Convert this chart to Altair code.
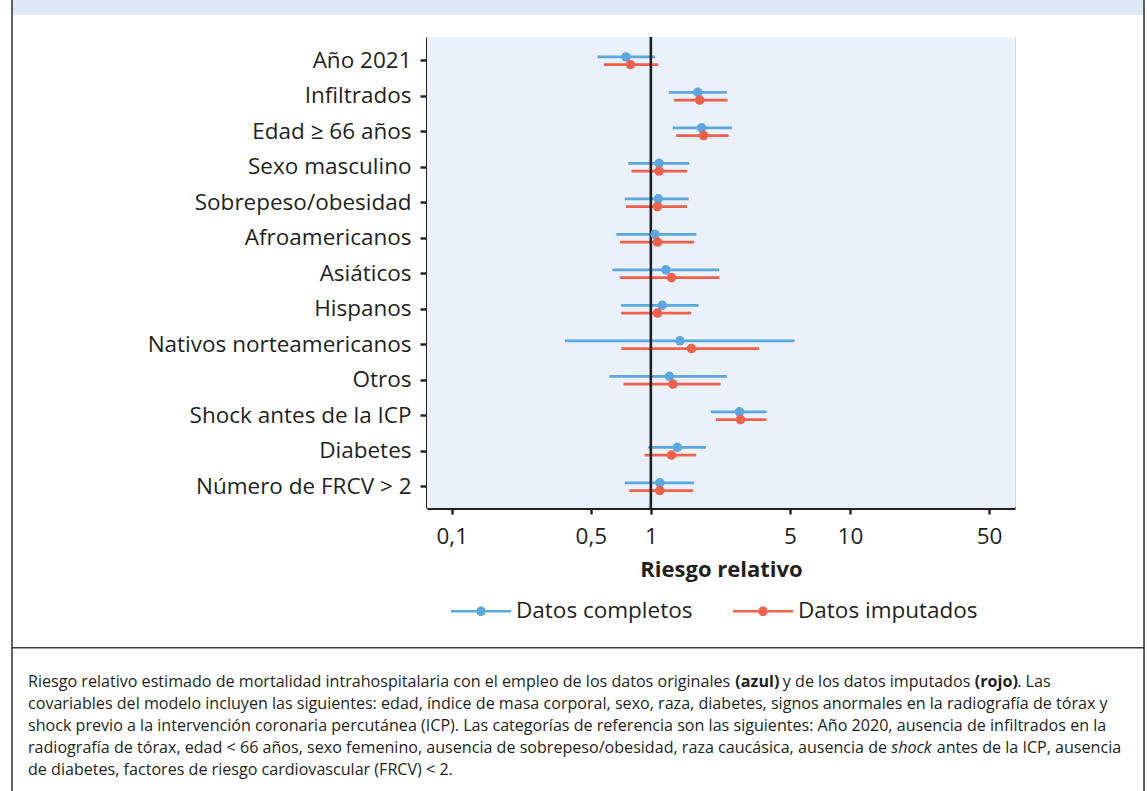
import altair as alt
import pandas as pd

# Categorías del modelo (de arriba abajo)
categorias = [
    "Año 2021",
    "Infiltrados",
    "Edad ≥ 66 años",
    "Sexo masculino",
    "Sobrepeso/obesidad",
    "Afroamericanos",
    "Asiáticos",
    "Hispanos",
    "Nativos norteamericanos",
    "Otros",
    "Shock antes de la ICP",
    "Diabetes",
    "Número de FRCV > 2",
]
series = ["Datos completos", "Datos imputados"]
colores = ["#5ba8de", "#f0604a"]

# Riesgo relativo e intervalo de confianza: datos completos
completos_rr = [0.75, 1.72, 1.80, 1.10, 1.09, 1.05, 1.19, 1.14, 1.40, 1.24, 2.79, 1.36, 1.11]
completos_lo = [0.54, 1.23, 1.29, 0.77, 0.74, 0.67, 0.64, 0.71, 0.37, 0.62, 2.00, 0.97, 0.74]
completos_hi = [1.05, 2.41, 2.55, 1.56, 1.55, 1.69, 2.20, 1.74, 5.27, 2.41, 3.81, 1.89, 1.65]

# Riesgo relativo e intervalo de confianza: datos imputados
imputados_rr = [0.79, 1.76, 1.84, 1.10, 1.08, 1.08, 1.27, 1.08, 1.60, 1.29, 2.82, 1.27, 1.11]
imputados_lo = [0.58, 1.31, 1.34, 0.80, 0.75, 0.70, 0.70, 0.71, 0.71, 0.73, 2.12, 0.93, 0.78]
imputados_hi = [1.09, 2.43, 2.46, 1.52, 1.52, 1.65, 2.21, 1.59, 3.50, 2.24, 3.81, 1.69, 1.63]

ticks_x = [0.1, 0.5, 1, 5, 10, 50]

# Pie de figura: una lista de tramos (texto, estilo) por línea
pie_lineas = [
    [
        ("Riesgo relativo estimado de mortalidad intrahospitalaria con el empleo de los datos originales ", "n"),
        ("(azul)", "b"),
        (" y de los datos imputados ", "n"),
        ("(rojo)", "b"),
        (". Las", "n"),
    ],
    [("covariables del modelo incluyen las siguientes: edad, índice de masa corporal, sexo, raza, diabetes, signos anormales en la radiografía de tórax y", "n")],
    [("shock previo a la intervención coronaria percutánea (ICP). Las categorías de referencia son las siguientes: Año 2020, ausencia de infiltrados en la", "n")],
    [
        ("radiografía de tórax, edad < 66 años, sexo femenino, ausencia de sobrepeso/obesidad, raza caucásica, ausencia de ", "n"),
        ("shock", "i"),
        (" antes de la ICP, ausencia", "n"),
    ],
    [("de diabetes, factores de riesgo cardiovascular (FRCV) < 2.", "n")],
]

filas = []
for i, cat in enumerate(categorias):
    filas.append(dict(variable=cat, serie=series[0], rr=completos_rr[i], lo=completos_lo[i], hi=completos_hi[i]))
    filas.append(dict(variable=cat, serie=series[1], rr=imputados_rr[i], lo=imputados_lo[i], hi=imputados_hi[i]))
df = pd.DataFrame(filas)

FONT = "Open Sans"
INK = "#231f20"

W, H = 588, 471
PAD = dict(left=427, top=37, right=1147 - 427 - W, bottom=791 - 37 - H)

y_enc = alt.Y(
    "variable:N",
    sort=categorias,
    scale=alt.Scale(paddingInner=0, paddingOuter=0.134, align=0.63),
    axis=alt.Axis(
        title=None,
        labelFont=FONT,
        labelFontSize=22.5,
        labelFontWeight=500,
        labelColor=INK,
        labelPadding=9,
        tickSize=7,
        tickWidth=2.4,
        tickColor=INK,
        domainColor=INK,
        domainWidth=3,
        labelLimit=400,
    ),
)
# Separación vertical entre la serie completa y la imputada dentro de cada fila
yoff = alt.YOffset("serie:N", sort=series, scale=alt.Scale(paddingInner=0, paddingOuter=0, range=[10, 25.5]))

leyenda = alt.Legend(
    title=None,
    orient="none",
    legendX=24,
    legendY=544,
    direction="horizontal",
    symbolType=(
        "M-1,-0.045H-0.16V0.045H-1Z"
        "M0.16,-0.045H1V0.045H0.16Z"
        "M-0.16,0A0.16,0.16 0 1,1 0.16,0A0.16,0.16 0 1,1 -0.16,0Z"
    ),
    symbolSize=3600,
    symbolStrokeWidth=0,
    symbolOpacity=1,
    labelFont=FONT,
    labelFontSize=22.5,
    labelFontWeight=500,
    labelColor=INK,
    labelOffset=5,
    columnPadding=40,
    labelLimit=400,
)
color_enc = alt.Color("serie:N", scale=alt.Scale(domain=series, range=colores), legend=leyenda)

x_enc = alt.X(
    "lo:Q",
    scale=alt.Scale(type="log", domain=[0.0751, 67.5], nice=False),
    axis=alt.Axis(
        title="Riesgo relativo",
        values=ticks_x,
        labelExpr="replace(format(datum.value, '~g'), '.', ',')",
        labelFont=FONT,
        labelFontSize=22.5,
        labelFontWeight=500,
        labelColor=INK,
        labelPadding=11,
        tickSize=6,
        tickWidth=2.4,
        tickColor=INK,
        domainColor=INK,
        domainWidth=3,
        grid=False,
        titleFont=FONT,
        titleFontSize=22,
        titleFontWeight="bold",
        titleColor=INK,
        titlePadding=12,
    ),
)

base = alt.Chart(df)

# Fondo del área de datos
fondo = alt.Chart(pd.DataFrame({"k": [0]})).mark_rect(color="#eaf1fa").encode(
    x=alt.value(0), x2=alt.value(W), y=alt.value(0), y2=alt.value(H)
)

intervalos = base.mark_rule(strokeWidth=2.8).encode(
    x=x_enc,
    x2="hi:Q",
    y=y_enc,
    yOffset=yoff,
    color=color_enc,
)

referencia = alt.Chart(pd.DataFrame({"v": [1]})).mark_rule(color=INK, strokeWidth=2.6).encode(
    x=alt.datum(1)
)

puntos = base.mark_circle(size=90, opacity=1).encode(
    x="rr:Q",
    y=alt.Y("variable:N", sort=categorias),
    yOffset=yoff,
    color=color_enc,
)

# Marco de la figura y banda de cabecera
x_izq, x_der = 12 - PAD["left"], 1144 - PAD["left"]
marco_dato = alt.Chart(pd.DataFrame({"k": [0]}))
cabecera = marco_dato.mark_rect(color="#dde8f4").encode(
    x=alt.value(x_izq), x2=alt.value(x_der), y=alt.value(-PAD["top"]), y2=alt.value(14.7 - PAD["top"])
)
borde_izq = marco_dato.mark_rule(color="#3a3a3a", strokeWidth=1.6).encode(
    x=alt.value(x_izq), y=alt.value(-PAD["top"]), y2=alt.value(791 - PAD["top"])
)
borde_der = marco_dato.mark_rule(color="#3a3a3a", strokeWidth=1.6).encode(
    x=alt.value(x_der), y=alt.value(-PAD["top"]), y2=alt.value(791 - PAD["top"])
)
divisor = marco_dato.mark_rule(color="#3a3a3a", strokeWidth=1.6).encode(
    x=alt.value(x_izq), x2=alt.value(x_der), y=alt.value(647.7 - PAD["top"])
)

# Anchos de avance aproximados de Open Sans (unidades sobre 2048) para encadenar
# los tramos en negrita y cursiva del pie.
ANCHO_N = {
    " ": 532, "a": 1139, "b": 1255, "c": 975, "d": 1255, "e": 1149, "f": 694, "g": 1122,
    "h": 1257, "i": 518, "j": 518, "k": 1075, "l": 518, "m": 1905, "n": 1257, "o": 1237,
    "p": 1255, "q": 1255, "r": 836, "s": 977, "t": 723, "u": 1257, "v": 1026, "w": 1593,
    "x": 1073, "y": 1028, "z": 977, "á": 1139, "é": 1149, "í": 518, "ó": 1237, "ú": 1257,
    "ñ": 1257, "(": 606, ")": 606, ".": 545, ",": 502, ":": 545, "/": 752, "<": 1171,
    "A": 1296, "C": 1264, "F": 1014, "I": 571, "L": 1075, "P": 1227, "R": 1268, "S": 1120, "V": 1241,
}
ANCHO_B = {"(": 694, ")": 694, "a": 1188, "z": 999, "u": 1319, "l": 608, "r": 918, "o": 1237, "j": 608}
FS_PIE = 16.1


def ancho(texto, estilo):
    total = 0
    for ch in texto:
        if estilo == "b":
            total += ANCHO_B.get(ch, ANCHO_N.get(ch, 1171) * 1.06)
        elif estilo == "i":
            total += ANCHO_N.get(ch, 1171) * 0.95
        else:
            total += ANCHO_N.get(ch, 1171)
    return total / 2048 * FS_PIE


tramos = []
for n, linea in enumerate(pie_lineas):
    px = 28.0
    py = 682 + 22 * n
    for texto, estilo in linea:
        lead = len(texto) - len(texto.lstrip(" "))
        x0 = px + ancho(" " * lead, "n")
        tramos.append(
            marco_dato.mark_text(
                align="left",
                baseline="middle",
                fontSize=FS_PIE,
                font=FONT,
                color=INK,
                fontWeight="bold" if estilo == "b" else "normal",
                fontStyle="italic" if estilo == "i" else "normal",
            ).encode(
                x=alt.value(x0 - PAD["left"]),
                y=alt.value(py - PAD["top"]),
                text=alt.value(texto.strip(" ")),
            )
        )
        px += ancho(texto, estilo)

chart = (
    alt.layer(cabecera, borde_izq, borde_der, divisor, *tramos, fondo, intervalos, referencia, puntos)
    .properties(width=W, height=H, padding=PAD, autosize=alt.AutoSizeParams(type="none"))
    .configure_view(stroke=None)
    .configure(font=FONT, background="white")
)

chart.save("out.html", embed_options={"renderer": "svg", "actions": False})
